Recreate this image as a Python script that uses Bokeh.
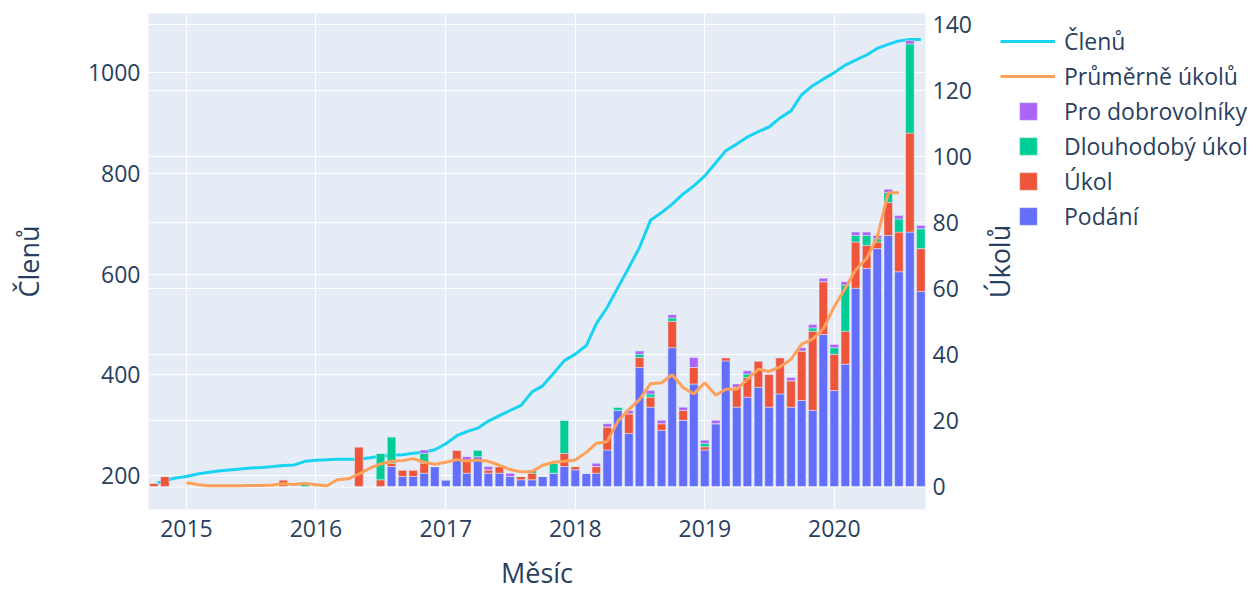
import math
import pandas as pd
from bokeh.plotting import figure
from bokeh.layouts import row
from bokeh.models import (ColumnDataSource, Range1d, LinearAxis, FixedTicker,
                          DatetimeTickFormatter, Grid, Legend, LegendItem, Label, Span)
from bokeh.embed import file_html
from bokeh.resources import INLINE

# ---- data ----
months = pd.date_range("2014-10-01", periods=72, freq="MS")   # Oct 2014 .. Sep 2020

podani = [0, 0, 0,
          0, 0, 0, 0, 0, 0, 0, 0, 0, 0, 0, 0,
          0, 0, 0, 0, 0, 0, 0, 6, 3, 3, 4, 6,
          2, 8, 4, 9, 4, 4, 3, 2, 2, 3, 4, 6,
          5, 4, 4, 11, 23, 16, 36, 24, 17, 42, 20, 31,
          11, 19, 38, 24, 27, 30, 24, 28, 24, 26, 23, 46,
          29, 37, 60, 66, 72, 76, 65, 77, 59]
ukol = [1, 3, 0,
        0, 0, 0, 0, 0, 0, 0, 0, 0, 2, 0, 0,
        0, 0, 0, 0, 12, 0, 2, 1, 2, 2, 3, 0,
        0, 3, 4, 0, 1, 2, 0, 1, 2, 0, 0, 4,
        1, 0, 2, 7, 0, 6, 3, 3, 2, 8, 3, 5,
        1, 0, 1, 6, 6, 8, 10, 11, 8, 15, 24, 16,
        11, 10, 14, 7, 2, 10, 12, 30, 13]
dlouhodoby = [0, 0, 0,
              0, 0, 0, 0, 0, 0, 0, 0, 0, 0, 0, 1,
              0, 0, 0, 0, 0, 0, 8, 8, 0, 0, 3, 0,
              0, 0, 0, 2, 0, 0, 0, 0, 1, 0, 3, 10,
              0, 0, 0, 0, 1, 0, 1, 1, 0, 1, 0, 0,
              1, 0, 0, 0, 1, 0, 0, 0, 0, 0, 1, 0,
              2, 14, 2, 3, 1, 3, 4, 27, 6]
dobrovolnici = [0, 0, 0,
                0, 0, 0, 0, 0, 0, 0, 0, 0, 0, 0, 0,
                0, 0, 0, 0, 0, 0, 0, 0, 0, 0, 1, 0,
                0, 0, 1, 0, 1, 0, 1, 0, 0, 0, 0, 0,
                0, 0, 1, 1, 0, 1, 1, 1, 1, 1, 1, 3,
                1, 1, 0, 1, 1, 0, 0, 0, 1, 1, 1, 1,
                1, 1, 1, 1, 1, 1, 1, 1, 1]
clenu = [182, 190, 195,
         198, 203, 206, 209, 211, 213, 215, 216, 218, 220, 221, 228,
         230, 231, 232, 232, 232, 235, 238, 240, 241, 244, 246, 251,
         263, 279, 287, 294, 308, 319, 329, 339, 366, 378, 403, 428,
         441, 458, 501, 534, 573, 613, 653, 707, 722, 739, 759, 775,
         795, 821, 845, 858, 872, 883, 892, 910, 924, 956, 974, 987,
         1000, 1015, 1025, 1035, 1048, 1056, 1063, 1066, 1066]
prumer_months = months[3:70]   # Jan 2015 .. Jul 2020
prumer = [1.1, 0.6, 0.2, 0.2, 0.2, 0.2, 0.3, 0.3, 0.4, 0.8, 0.6, 0.9,
          0.5, 0.2, 2.0, 2.3, 3.7, 5.5, 6.8, 7.6, 7.8, 8.4, 7.3, 6.7,
          7.3, 8.1, 7.7, 8.0, 7.6, 6.4, 5.1, 4.4, 4.5, 6.4, 7.3, 7.6,
          8.0, 10.3, 13.0, 13.6, 19.7, 23.3, 26.3, 31.1, 31.4, 33.8, 29.9, 28.0,
          31.4, 27.6, 29.4, 29.4, 32.4, 35.5, 34.8, 36.2, 38.5, 43.1, 44.6, 47.7,
          54.5, 60.0, 65.5, 69.0, 75.5, 88.9, 88.9]

year_ticks = [2015, 2016, 2017, 2018, 2019, 2020]
left_ticks = [200, 400, 600, 800, 1000]
right_ticks = [0, 20, 40, 60, 80, 100, 120, 140]

FONT = "Open Sans"
TXT = "#2a3f5f"
C_POD, C_UK, C_DL, C_DOB = "#636efa", "#EF553B", "#00cc96", "#ab63fa"
C_CLEN, C_PRUM = "#19d3f3", "#FFA15A"

src = ColumnDataSource(dict(x=months, podani=podani, ukol=ukol,
                            dlouhodoby=dlouhodoby, dobrovolnici=dobrovolnici,
                            clenu=clenu))
src2 = ColumnDataSource(dict(x=prumer_months, prumer=prumer))

MAIN_W = 978
p = figure(width=MAIN_W, height=593, x_axis_type="datetime",
           x_range=Range1d(start=pd.Timestamp("2014-09-16"), end=pd.Timestamp("2020-09-14")),
           y_range=Range1d(132.4, 1117.4),
           output_backend="svg", toolbar_location=None,
           min_border_left=148, min_border_right=MAIN_W - 925, min_border_top=13,
           min_border_bottom=84)
p.extra_y_ranges = {"tasks": Range1d(-7.0, 143.2)}
p.background_fill_color = "#E5ECF6"
p.border_fill_color = "white"
p.outline_line_color = None

xt = FixedTicker(ticks=[pd.Timestamp(f"{y}-01-01").value // 10**6 for y in year_ticks])
p.xaxis.ticker = xt
p.xaxis.formatter = DatetimeTickFormatter(years="%Y", months="%Y", days="%Y")
lt = FixedTicker(ticks=left_ticks)
p.yaxis.ticker = lt
rax = LinearAxis(y_range_name="tasks", ticker=FixedTicker(ticks=right_ticks))
p.add_layout(rax, "right")

for ax in [p.xaxis[0], p.yaxis[0], rax]:
    ax.axis_line_color = None
    ax.major_tick_line_color = None
    ax.minor_tick_line_color = None
    ax.major_tick_out = 0
    ax.major_tick_in = 0
    ax.minor_tick_out = 0
    ax.major_label_text_font = FONT
    ax.major_label_text_font_size = "23px"
    ax.major_label_text_color = TXT
    ax.axis_label_text_font = FONT
    ax.axis_label_text_font_size = "27px"
    ax.axis_label_text_color = TXT
    ax.axis_label_text_font_style = "normal"
p.xaxis.major_label_standoff = 10
p.yaxis[0].major_label_standoff = 8
rax.major_label_standoff = 7
p.xaxis.axis_label = "Měsíc"
p.xaxis.axis_label_standoff = 14
p.yaxis[0].axis_label = "Členů"
p.yaxis[0].axis_label_standoff = 38

p.xgrid.ticker = xt
p.ygrid.ticker = lt
for g in [p.xgrid[0], p.ygrid[0]]:
    g.grid_line_color = "white"
    g.grid_line_width = 1
p.add_layout(Grid(dimension=1, ticker=FixedTicker(ticks=right_ticks), y_range_name="tasks",
                  grid_line_color="white", grid_line_width=1))
p.add_layout(Span(location=0, dimension="width", y_range_name="tasks",
                  line_color="white", line_width=2, level="underlay"))

p.line("x", "clenu", source=src, line_color=C_CLEN, line_width=3)
p.vbar_stack(["podani", "ukol", "dlouhodoby", "dobrovolnici"], x="x",
             width=24 * 86400000, source=src, y_range_name="tasks",
             color=[C_POD, C_UK, C_DL, C_DOB],
             line_color="#E5ECF6", line_width=0.5)
p.line("x", "prumer", source=src2, y_range_name="tasks",
       line_color=C_PRUM, line_width=3)

# ---- legend / right title panel (frame aligned with the main plot: y 13..509) ----
LW = 1253 - MAIN_W
lf = figure(width=LW, height=593, x_range=Range1d(0, 1), y_range=Range1d(0, 1),
            x_axis_location=None, y_axis_location=None, min_border=0,
            output_backend="svg", toolbar_location=None)
lf.outline_line_color = None
lf.background_fill_color = "white"
lf.border_fill_color = "white"
lf.grid.visible = False

px, py = [50, 51], [50, 51]
g_clen = lf.line(px, py, line_color=C_CLEN, line_width=3)
g_prum = lf.line(px, py, line_color=C_PRUM, line_width=3)
g_dob = lf.vbar(x=[50], top=[51], bottom=[50], width=0.1, color=C_DOB, line_color="#E5ECF6", line_width=0.5)
g_dl = lf.vbar(x=[50], top=[51], bottom=[50], width=0.1, color=C_DL, line_color="#E5ECF6", line_width=0.5)
g_uk = lf.vbar(x=[50], top=[51], bottom=[50], width=0.1, color=C_UK, line_color="#E5ECF6", line_width=0.5)
g_pod = lf.vbar(x=[50], top=[51], bottom=[50], width=0.1, color=C_POD, line_color="#E5ECF6", line_width=0.5)

common = dict(label_text_font=FONT, label_text_font_size="23px", label_text_color=TXT,
              background_fill_alpha=0, border_line_color=None, padding=0, margin=0,
              spacing=3, label_height=32)
legA = Legend(items=[LegendItem(label="Členů", renderers=[g_clen]),
                     LegendItem(label="Průměrně úkolů", renderers=[g_prum])],
              location=(1000 - MAIN_W, 417.5), glyph_width=55, glyph_height=32,
              label_standoff=9, **common)
legB = Legend(items=[LegendItem(label="Pro dobrovolníky", renderers=[g_dob]),
                     LegendItem(label="Dlouhodobý úkol", renderers=[g_dl]),
                     LegendItem(label="Úkol", renderers=[g_uk]),
                     LegendItem(label="Podání", renderers=[g_pod])],
              location=(1017 - MAIN_W, 277.3), glyph_width=22, glyph_height=22,
              label_standoff=25, **common)
lf.add_layout(legA, "center")
lf.add_layout(legB, "center")

lf.add_layout(Label(x=999 - MAIN_W, y=248, x_units="screen", y_units="screen", text="Úkolů",
                    angle=math.pi / 2, text_align="center", text_baseline="middle",
                    text_font=FONT, text_font_size="27px", text_color=TXT))

layout = row(p, lf, spacing=0)
open("out.html", "w").write(file_html(layout, INLINE))
